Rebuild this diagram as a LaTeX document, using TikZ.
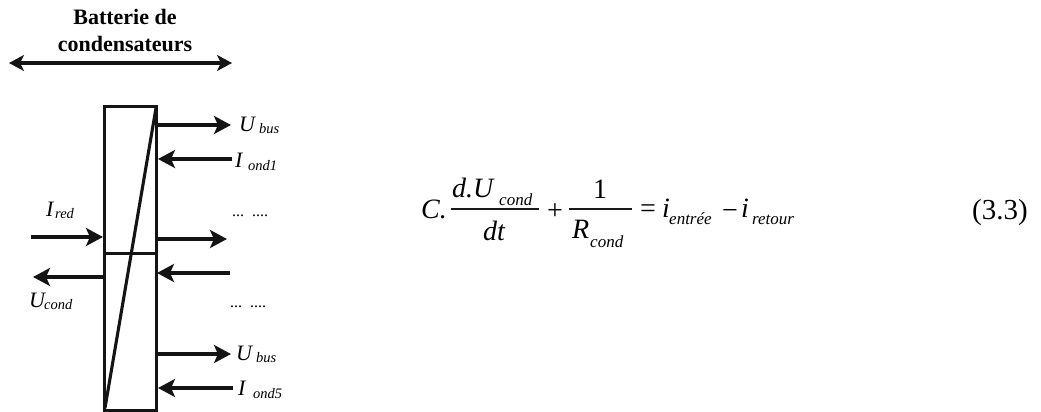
\documentclass[tikz,border=0pt]{standalone}
\usepackage{fontspec}
\setmainfont{Liberation Serif}
\usetikzlibrary{arrows.meta}
\tikzset{
 x=1pt,y=-1pt,
 ln/.style={line width=3.1pt,black!92},
 arr/.style={ln,-{Stealth[length=17pt,width=18pt,inset=4pt]}},
 darr/.style={line width=3.1pt,black!92,{Stealth[length=15pt,width=16pt,inset=4pt]}-{Stealth[length=15pt,width=16pt,inset=4pt]}},
 lab/.style={inner sep=0pt,anchor=base west,font=\fontsize{22}{22}\selectfont\itshape},
 subl/.style={inner sep=0pt,anchor=base west,font=\fontsize{14.5}{14.5}\selectfont\itshape},
 subq/.style={inner sep=0pt,anchor=base west,font=\fontsize{17}{17}\selectfont\itshape},
 eq/.style={inner sep=0pt,anchor=base west,font=\fontsize{28}{28}\selectfont},
 ieq/.style={eq,font=\fontsize{28}{28}\selectfont\itshape},
 ttl/.style={inner sep=0pt,anchor=base,font=\fontsize{22}{22}\selectfont\bfseries},
 dotl/.style={inner sep=0pt,font=\fontsize{16}{16}\selectfont,anchor=base},
 bar/.style={line width=1.5pt,black!90},
}
\begin{document}
\begin{tikzpicture}
\useasboundingbox (0,0) rectangle (1041,412);
\node[ttl] (t1) at (125,25) {Batterie de};
\node[ttl] (t2) at (125,52) {condensateurs};
\coordinate (dl) at (9,63); \coordinate (dr) at (232,63);
\draw[darr] (dl) -- (dr);
\node[draw,ln,minimum width=52pt,minimum height=304pt,inner sep=0pt,anchor=north west,outer sep=0pt] (box) at (104.5,106.5) {};
\coordinate (diagT) at (156,108); \coordinate (diagB) at (105,408);
\draw[ln] (diagT) -- (diagB);
\coordinate (hl) at (104,253.5); \coordinate (hr) at (156,253.5);
\draw[ln] (hl) -- (hr);
% right side
\coordinate (a1s) at (156,125); \coordinate (a1e) at (231,125);
\draw[arr] (a1s) -- (a1e);
\coordinate (a2s) at (232,159); \coordinate (a2e) at (158,159);
\draw[arr] (a2s) -- (a2e);
\coordinate (a3s) at (156,239); \coordinate (a3e) at (227,239);
\draw[arr] (a3s) -- (a3e);
\coordinate (a4s) at (230,273); \coordinate (a4e) at (157,273);
\draw[arr] (a4s) -- (a4e);
\coordinate (a5s) at (156,354); \coordinate (a5e) at (231,354);
\draw[arr] (a5s) -- (a5e);
\coordinate (a6s) at (233,388); \coordinate (a6e) at (158,388);
\draw[arr] (a6s) -- (a6e);
% left side
\coordinate (b1s) at (31,237); \coordinate (b1e) at (103,237);
\draw[arr] (b1s) -- (b1e);
\coordinate (b2s) at (103,277); \coordinate (b2e) at (33,277);
\draw[arr] (b2s) -- (b2e);
% labels
\node[lab] (ub1) at (239,131) {U};
\node[subl] (ub1s) at (259,133.5) {bus};
\node[lab] (io1) at (235,167) {I};
\node[subl] (io1s) at (248,170) {ond1};
\node[lab] (ired) at (46,216) {I};
\node[subl] (ireds) at (55,218.5) {red};
\node[lab] (ucond) at (29,307) {U};
\node[subl] (uconds) at (44,309.5) {cond};
\node[lab] (ub2) at (236,360) {U};
\node[subl] (ub2s) at (256,362.5) {bus};
\node[lab] (io5) at (238,395) {I};
\node[subl] (io5s) at (253,398.5) {ond5};
\node[dotl] (d1) at (250,216) {...\,\,\,....};
\node[dotl] (d2) at (248,307) {...\,\,\,....};
% equation
\node[ieq] (eC) at (421,218) {C.};
\node[ieq] (num) at (452,197) {d.U};
\node[subq] (nums) at (499,205) {cond};
\draw[bar] (451,209) -- (539,209);
\node[ieq] (den) at (483,240) {dt};
\node[eq,anchor=base] (plus) at (555,219) {+};
\node[eq,anchor=base] (one) at (600,198) {1};
\draw[bar] (569,209) -- (632,209);
\node[ieq] (rcond) at (572,238) {R};
\node[subq] (rconds) at (590,247) {cond};
\node[eq,anchor=base] (equ) at (648,217) {=};
\node[ieq] (ie) at (662,217) {i};
\node[subq] (ies) at (669,224) {entrée};
\node[eq,anchor=base] (minus) at (730,219) {−};
\node[ieq] (ir) at (741,217) {i};
\node[subq] (irs) at (752,224) {retour};
\node[eq,anchor=base,font=\fontsize{29}{29}\selectfont] (num33) at (1000,219) {(3.3)};
\end{tikzpicture}
\end{document}
